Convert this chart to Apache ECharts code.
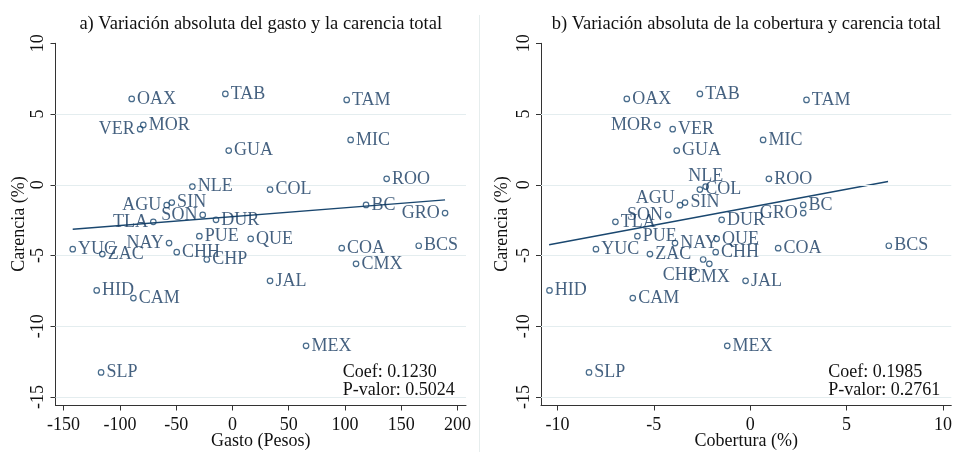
<!DOCTYPE html>
<html><head><meta charset="utf-8">
<script src="https://cdn.jsdelivr.net/npm/echarts@6/dist/echarts.min.js"></script>
<style>html,body{margin:0;padding:0;background:#fff}#c{width:955px;height:452px}</style>
</head><body><div id="c"></div>
<script>
// ---- data ----
const states    = ['AGU','BC','BCS','CAM','COA','COL','CHP','CHH','CMX','DUR','GUA','GRO','HID','JAL','MEX','MIC','MOR','NAY','NLE','OAX','PUE','QUE','ROO','SLP','SIN','SON','TAB','TAM','TLA','VER','YUC','ZAC'];
const carencia  = [-1.44,-1.42,-4.31,-8.01,-4.48,-0.34,-5.28,-4.76,-5.59,-2.48,2.42,-2.0,-7.47,-6.79,-11.38,3.17,4.23,-4.12,-0.13,6.07,-3.63,-3.82,0.42,-13.26,-1.26,-2.13,6.42,6.0,-2.62,3.93,-4.55,-4.9];
const gasto     = [-58.4,118.7,165.5,-88,97.1,33.4,-22.8,-49.5,109.8,-14.6,-3.3,188.9,-120.6,33.4,65.4,105,-79.2,-56.3,-35.6,-89.5,-29.4,16.2,137,-116.7,-53.9,-26.4,-6.3,101.5,-70.3,-82,-141.9,-115.6];
const cobertura = [-3.64,2.75,7.19,-6.09,1.45,-2.61,-2.44,-1.79,-2.12,-1.48,-3.81,2.75,-10.41,-0.24,-1.19,0.67,-4.82,-3.9,-2.31,-6.40,-5.85,-1.74,0.97,-8.36,-3.38,-4.25,-2.61,2.92,-6.99,-4.02,-8.0,-5.2];
const xTicksA = [-150,-100,-50,0,50,100,150,200];
const xTicksB = [-10,-5,0,5,10];
const yTicks  = [-15,-10,-5,0,5,10];
const gridYs  = [-15,-10,-5,0,5];
const fitA_x = [-141.9,188.9], fitA_y = [-3.14,-1.07];
const fitB_x = [-10.43,7.15],  fitB_y = [-4.24,0.23];
const statsA = ['Coef: 0.1230','P-valor: 0.5024'];
const statsB = ['Coef: 0.1985','P-valor: 0.2761'];
const titleA = 'a) Variación absoluta del gasto y la carencia total';
const titleB = 'b) Variación absoluta de la cobertura y carencia total';
const xNameA = 'Gasto (Pesos)', xNameB = 'Cobertura (%)', yName = 'Carencia (%)';

// ---- styling ----
const FONT = '"Liberation Serif","Times New Roman",serif';
const NAVY = '#1a476f';
const LBL = '#173a60';
const AX = '#333';
const placeA = {VER:{position:'left'},AGU:{position:'left'},SON:{position:'left'},TLA:{position:'left'},NAY:{position:'left'},GRO:{position:'left'}};
const placeB = {MOR:{position:'left'},AGU:{position:'left',offset:[0,-7]},SON:{position:'left'},GRO:{position:'left'},
                NLE:{position:'top',distance:0,offset:[0,2]},CHP:{position:'left',offset:[0,16]},CMX:{position:'bottom',distance:1}};

function pts(xs, place){
  return states.map((s,i)=>{
    const item = {name:s, value:[xs[i], carencia[i]]};
    if(place[s]) item.label = Object.assign({}, place[s]);
    return item;
  });
}
const G = [{left:55.5, top:43.3, width:410.5, height:362.2},{left:541, top:43.3, width:410.7, height:362.2}];
function xAx(i,min,max,ticks){
  return {type:'value', gridIndex:i, min:min, max:max,
    axisLine:{show:true,onZero:false,lineStyle:{color:AX,width:1}},
    axisTick:{show:true,length:5,inside:false,customValues:ticks,lineStyle:{color:AX}},
    axisLabel:{customValues:ticks,fontFamily:FONT,fontSize:18,color:'#111',margin:11},
    splitLine:{show:false}};
}
function yAx(i){
  return {type:'value', gridIndex:i, min:-15.6, max:10,
    axisLine:{show:true,onZero:false,lineStyle:{color:AX,width:1}},
    axisTick:{show:true,length:5,customValues:yTicks,lineStyle:{color:AX}},
    axisLabel:{customValues:yTicks,rotate:90,fontFamily:FONT,fontSize:18,color:'#111',margin:8},
    splitLine:{show:false}};
}
const scatterBase = {type:'scatter', symbol:'circle', symbolSize:5.5, z:5,
  itemStyle:{color:'rgba(0,0,0,0)', borderColor:NAVY, borderWidth:1.2},
  label:{show:true, position:'right', distance:2, formatter:'{b}', color:LBL, fontFamily:FONT, fontSize:18},
  emphasis:{disabled:true}};
function gridSeries(i){
  return {type:'line', xAxisIndex:i, yAxisIndex:i, data:[], z:1, silent:true,
    markLine:{silent:true, symbol:['none','none'], label:{show:false}, animation:false,
      lineStyle:{color:'#e4edef', type:'solid', width:1.2},
      data: gridYs.map(v=>({yAxis:v}))}};
}
function fitSeries(i,xs,ys){
  return {type:'line', xAxisIndex:i, yAxisIndex:i, z:3, showSymbol:false, silent:true,
    data: xs.map((x,k)=>[x, ys[k]]), lineStyle:{color:NAVY, width:1.4}};
}
function txt(x,y,t,opt){
  return Object.assign({type:'text', x:x, y:y, silent:true,
    style:Object.assign({text:t, font:'18px '+FONT, fill:'#111', textAlign:'center', textVerticalAlign:'middle'}, opt||{})});
}

const chart = echarts.init(document.getElementById('c'), null, {renderer:'canvas'});
chart.setOption({
  animation:false,
  backgroundColor:'#fff',
  grid: G,
  xAxis: [xAx(0,-157.2,207.5,xTicksA), xAx(1,-10.85,10.43,xTicksB)],
  yAxis: [yAx(0), yAx(1)],
  series: [
    gridSeries(0), gridSeries(1),
    fitSeries(0, fitA_x, fitA_y), fitSeries(1, fitB_x, fitB_y),
    Object.assign({}, scatterBase, {xAxisIndex:0, yAxisIndex:0, data:pts(gasto, placeA)}),
    Object.assign({}, scatterBase, {xAxisIndex:1, yAxisIndex:1, data:pts(cobertura, placeB)})
  ],
  graphic: [
    {type:'line', silent:true, shape:{x1:479.5,y1:15,x2:479.5,y2:452}, style:{stroke:'#e6eded', lineWidth:1}},
    txt(260.7, 24, titleA, {font:'18.5px '+FONT}),
    txt(746.3, 24, titleB, {font:'18.5px '+FONT}),
    txt(260.7, 441, xNameA),
    txt(746.3, 441, xNameB),
    Object.assign(txt(0,0,yName), {x:19.5, y:224, rotation:Math.PI/2}),
    Object.assign(txt(0,0,yName), {x:502.5, y:224, rotation:Math.PI/2}),
    txt(342.7, 372.7, statsA[0], {textAlign:'left'}),
    txt(342.7, 390.7, statsA[1], {textAlign:'left'}),
    txt(828.3, 372.7, statsB[0], {textAlign:'left'}),
    txt(828.3, 390.7, statsB[1], {textAlign:'left'})
  ]
});
</script></body></html>
